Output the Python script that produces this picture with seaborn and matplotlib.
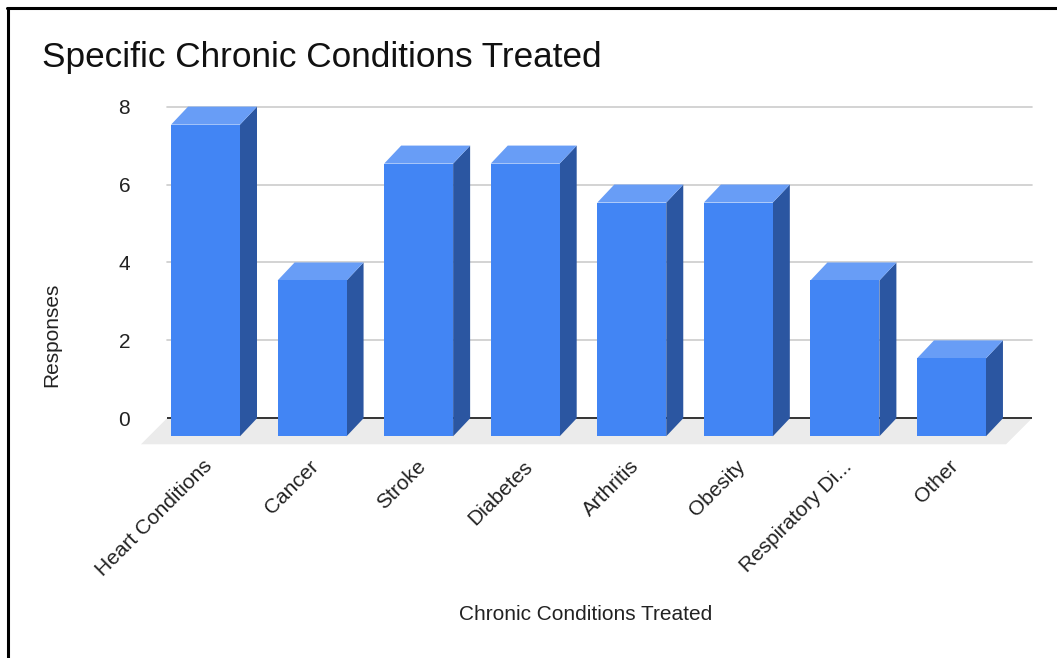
import matplotlib
matplotlib.use("Agg")
import matplotlib.pyplot as plt
import matplotlib.transforms as mtransforms
from matplotlib.patches import Polygon
from matplotlib.lines import Line2D
import seaborn as sns

# Survey data
categories = ["Heart Conditions", "Cancer", "Stroke", "Diabetes", "Arthritis",
              "Obesity", "Respiratory Di...", "Other"]
responses = [8, 4, 7, 7, 6, 6, 4, 2]
y_ticks = [0, 2, 4, 6, 8]

sns.set_theme(style="white")
plt.rcParams["font.family"] = ["Liberation Sans", "DejaVu Sans"]

W, H, DPI = 1057, 658, 100
fig = plt.figure(figsize=(W / DPI, H / DPI), dpi=DPI)
fig.patch.set_facecolor("white")

# axes placed in pixel terms
ax_l, ax_r, ax_b, ax_t = 167, 1032, 444, 100
ax = fig.add_axes([ax_l / W, 1 - ax_b / H, (ax_r - ax_l) / W, (ax_b - ax_t) / H])

xlim = (-0.521, 7.596)
ylim = (-0.66, 8.17)

# depth of the pseudo-3D boxes, in pixels
DEPTH_X, DEPTH_Y = 17, 18
px_per_x = (ax_r - ax_l) / (xlim[1] - xlim[0])
px_per_y = (ax_b - ax_t) / (ylim[1] - ylim[0])
ddx = DEPTH_X / px_per_x
ddy = DEPTH_Y / px_per_y

FRONT = "#4285F4"
SIDE = "#2B56A1"
TOP = "#689DF6"

sns.barplot(x=categories, y=responses, color=FRONT, saturation=1, width=0.647,
            ax=ax, zorder=3)
bars = list(ax.patches)
ax.set_xlim(*xlim)
ax.set_ylim(*ylim)

# floor under the bars
floor_dx = 26 / px_per_x
floor_dy = 26 / px_per_y
floor = Polygon([(xlim[0] - floor_dx, -floor_dy), (xlim[0], 0), (xlim[1], 0),
                 (xlim[1] - floor_dx, -floor_dy)], closed=True,
                facecolor="#EBEBEB", edgecolor="none", zorder=0.5, clip_on=False)
ax.add_patch(floor)

# back-wall gridlines and baseline
for t in y_ticks[1:]:
    ax.axhline(t, color="#CCCCCC", lw=1.2, zorder=0.4, clip_on=False)
ax.axhline(0, color="#333333", lw=1.4, zorder=0.6)

front_tr = mtransforms.offset_copy(ax.transData, fig=fig, x=-DEPTH_X, y=-DEPTH_Y,
                                   units="dots")
for bar in bars:
    x0 = bar.get_x()
    x1 = x0 + bar.get_width()
    v = bar.get_height()
    # front face shifted toward the viewer
    bar.set_transform(front_tr)
    bar.set_edgecolor("none")
    bar.set_linewidth(0)
    bar.set_zorder(3)
    side = Polygon([(x1 - ddx, -ddy), (x1, 0), (x1, v), (x1 - ddx, v - ddy)],
                   closed=True, facecolor=SIDE, edgecolor="none", zorder=2)
    top = Polygon([(x0 - ddx, v - ddy), (x1 - ddx, v - ddy), (x1, v), (x0, v)],
                  closed=True, facecolor=TOP, edgecolor="none", zorder=2)
    ax.add_patch(side)
    ax.add_patch(top)

for s in ax.spines.values():
    s.set_visible(False)

TXT = "#222222"
ax.set_yticks(y_ticks)
ax.set_yticklabels([str(t) for t in y_ticks])
ax.tick_params(axis="y", length=0, pad=26.5, labelsize=15, labelcolor=TXT)
ax.tick_params(axis="x", length=0, pad=14, labelsize=15, labelcolor=TXT)

ax.set_xticks(range(len(categories)))
ax.set_xticklabels(categories)
for lab in ax.get_xticklabels():
    lab.set_rotation(45)
    lab.set_ha("right")
    lab.set_va("center")
    lab.set_rotation_mode("anchor")
    lab.set_transform(mtransforms.offset_copy(lab.get_transform(), fig=fig,
                                              x=-13, y=0, units="dots"))

ax.set_xlabel("Chronic Conditions Treated", fontsize=15, color=TXT)
ax.xaxis.label.set_va("center")
ax.xaxis.set_label_coords((586 - ax_l) / (ax_r - ax_l), (ax_b - 615) / (ax_b - ax_t))

ax.set_ylabel("Responses", fontsize=15, color=TXT)
ax.yaxis.label.set_va("center")
ax.yaxis.set_label_coords((52 - ax_l) / (ax_r - ax_l), (ax_b - 335) / (ax_b - ax_t))

fig.text(42 / W, 1 - 67 / H, "Specific Chronic Conditions Treated", fontsize=25.3,
         color="#111111", ha="left", va="baseline")

# frame lines along top and left
fig.add_artist(Line2D([7 / W, 1.0], [1 - 7.5 / H, 1 - 7.5 / H], color="black",
                      lw=2.2, transform=fig.transFigure))
fig.add_artist(Line2D([7.5 / W, 7.5 / W], [0, 1 - 7.5 / H], color="black",
                      lw=2.2, transform=fig.transFigure))

fig.savefig("out.png", dpi=DPI, facecolor="white")
